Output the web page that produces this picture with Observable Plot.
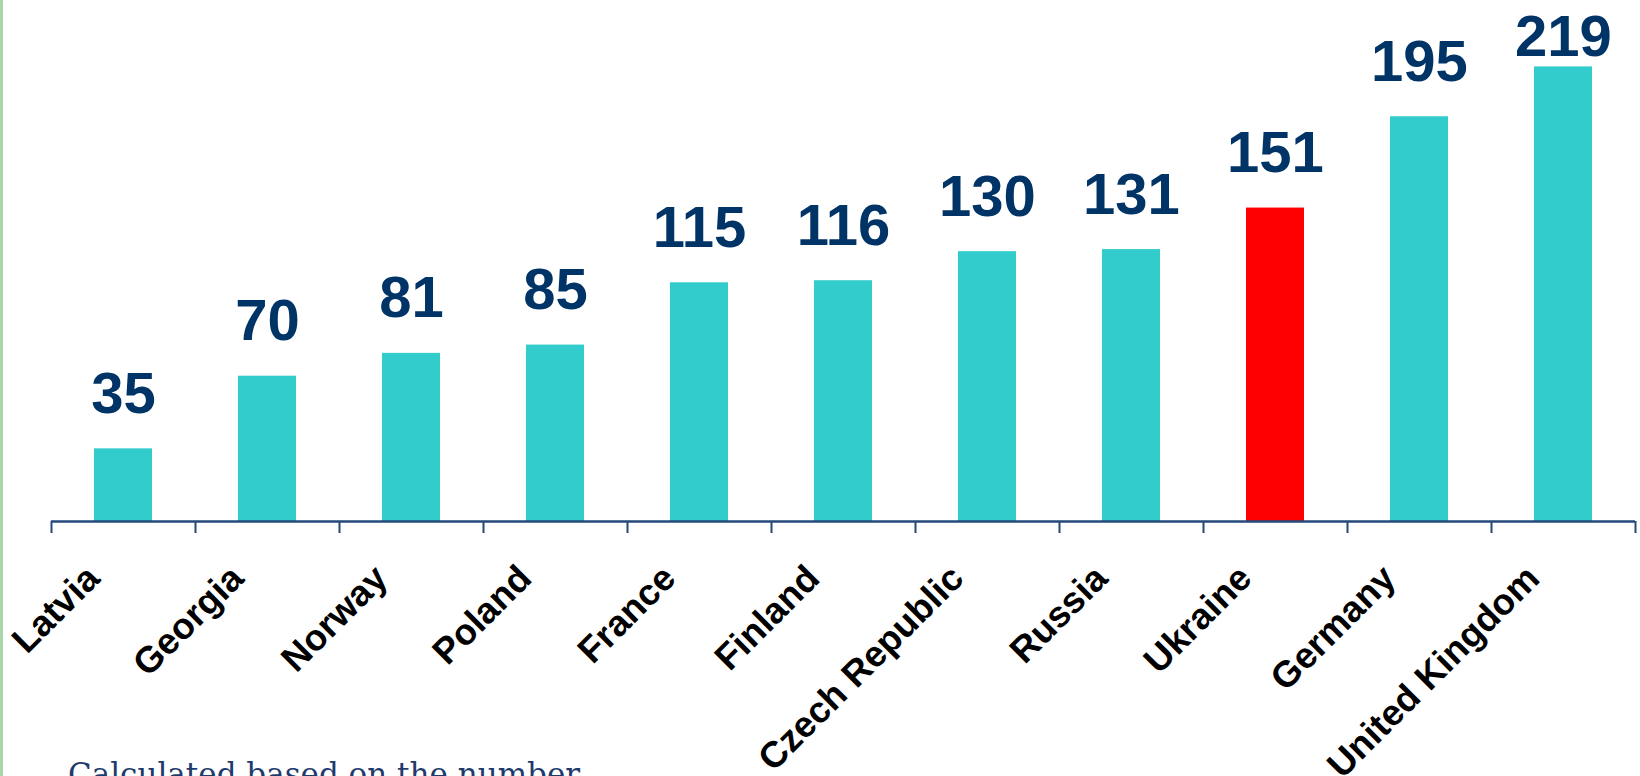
<!DOCTYPE html>
<html>
<head>
<meta charset="utf-8">
<script src="https://cdn.jsdelivr.net/npm/d3@7"></script>
<script src="https://cdn.jsdelivr.net/npm/@observablehq/plot@0.6"></script>
<style>
  html, body { margin: 0; padding: 0; background: #fff; overflow: hidden; }
  #wrap { position: relative; width: 1640px; height: 776px; overflow: hidden; }
  #chart { position: absolute; left: 0; top: 0; }
  #edge { position: absolute; left: 0; top: 0; width: 3px; height: 776px; background: #a9d7a9; }
  #caption { position: absolute; left: 68px; top: 759px; font-family: "DejaVu Serif", "Liberation Serif", serif; font-size: 31px; line-height: 1; color: #1f3b6e; white-space: nowrap; }
</style>
</head>
<body>
<div id="wrap">
  <div id="chart"></div>
  <div id="edge"></div>
  <div id="caption">Calculated based on the number</div>
</div>
<script>
const countries = ["Latvia", "Georgia", "Norway", "Poland", "France", "Finland", "Czech Republic", "Russia", "Ukraine", "Germany", "United Kingdom"];
const values = [35, 70, 81, 85, 115, 116, 130, 131, 151, 195, 219];
const highlighted = "Ukraine";
const topCountry = "United Kingdom";

const data = countries.map((c, i) => ({country: c, value: values[i]}));

const axisColor = "#24497a";
const chart = Plot.plot({
  width: 1640,
  height: 776,
  marginLeft: 51,
  marginRight: 5,
  marginTop: 0,
  marginBottom: 255,
  style: {background: "transparent", fontFamily: "'Liberation Sans', Arial, sans-serif"},
  x: {domain: countries, paddingInner: 0.6, paddingOuter: 0.3, axis: null},
  y: {domain: [0, 251], axis: null},
  color: {type: "identity"},
  marks: [
    Plot.barY(data, {x: "country", y: "value", fill: d => d.country === highlighted ? "#ff0000" : "#33cccc"}),
    Plot.ruleY([0], {stroke: axisColor, strokeWidth: 2.5}),
    Plot.ruleX(countries, {x: d => d, y1: 0, y2: 0, insetBottom: -12, dx: -72, stroke: axisColor, strokeWidth: 2}),
    Plot.ruleX([countries[countries.length - 1]], {x: d => d, y1: 0, y2: 0, insetBottom: -12, dx: 72, stroke: axisColor, strokeWidth: 2}),
    Plot.text(data.filter(d => d.country !== topCountry), {x: "country", y: "value", text: d => String(d.value), dy: -36, lineAnchor: "bottom", fontSize: 58, fontWeight: "bold", fill: "#003366"}),
    Plot.text(data.filter(d => d.country === topCountry), {x: "country", y: "value", text: d => String(d.value), dy: -11, lineAnchor: "bottom", fontSize: 58, fontWeight: "bold", fill: "#003366"}),
    Plot.text(countries, {x: d => d, frameAnchor: "bottom", text: d => d, rotate: -45, textAnchor: "end", lineAnchor: "bottom", dx: -22, dy: 59, fontSize: 36.5, fontWeight: "bold", fill: "#000"})
  ]
});
document.getElementById("chart").appendChild(chart);
</script>
</body>
</html>
